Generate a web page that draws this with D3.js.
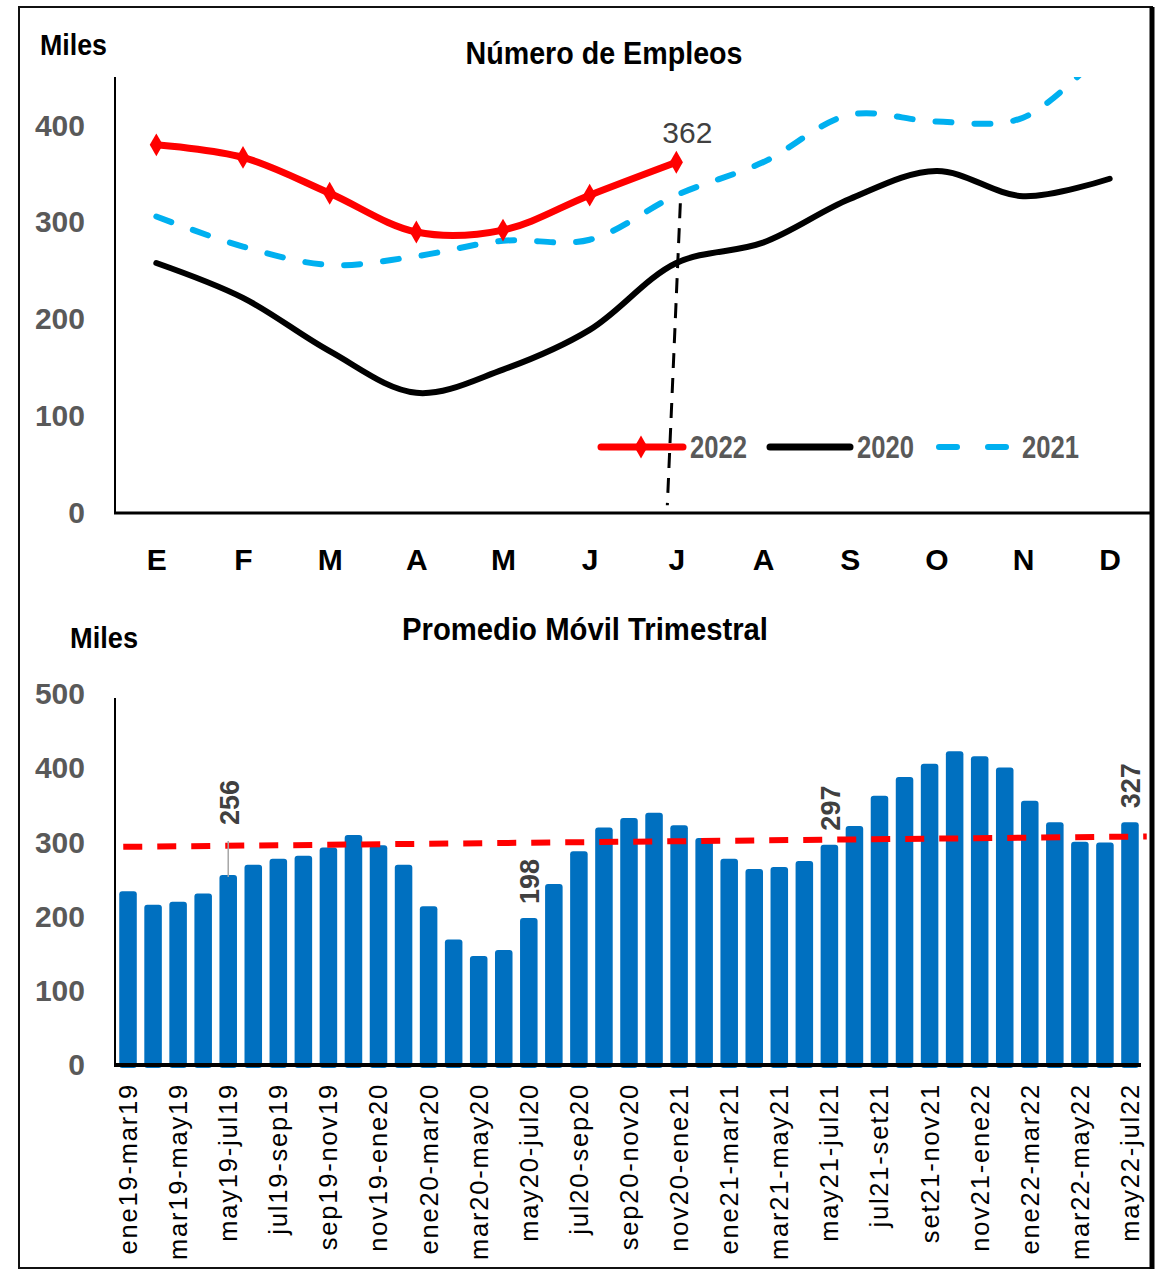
<!DOCTYPE html>
<html>
<head>
<meta charset="utf-8">
<script src="https://cdn.jsdelivr.net/npm/d3@7"></script>
<style>
  body { margin: 0; background: #fff; }
  svg text { font-family: 'Liberation Sans Narrow', 'Arial Narrow', 'Liberation Sans', sans-serif; }
</style>
</head>
<body>
<div id="chart"></div>
<script>
// top chart: monthly jobs (miles)
var months = ["E","F","M","A","M","J","J","A","S","O","N","D"];
var emp2020 = [258, 222, 167, 124, 148, 189, 258, 279, 324, 353, 327, 345];
var emp2021 = [306, 275, 256, 265, 281, 282, 328, 362, 411, 404, 408, 484];
var emp2022 = [380, 367, 330, 290, 292, 328, 362];

// bottom chart: 3-month moving average
var periodLabels = ["ene19-mar19","mar19-may19","may19-jul19","jul19-sep19","sep19-nov19",
  "nov19-ene20","ene20-mar20","mar20-may20","may20-jul20","jul20-sep20","sep20-nov20",
  "nov20-ene21","ene21-mar21","mar21-may21","may21-jul21","jul21-set21","set21-nov21",
  "nov21-ene22","ene22-mar22","mar22-may22","may22-jul22"];
var movAvg = [234, 216, 220, 231, 256, 270, 278, 282, 293, 310, 296, 270,
  214, 169, 147, 155, 198, 244, 288, 320, 333, 340, 323, 306, 278, 264,
  267, 275, 297, 322, 363, 388, 406, 423, 416, 401, 356, 327, 301, 300, 327];
var labelled = [4, 16, 28, 40];
var trend = [294, 308];

var W = 1166, H = 1271;
var svg = d3.select("#chart").append("svg")
  .attr("width", W).attr("height", H);

// frame
svg.append("rect")
  .attr("x", 19).attr("y", 7).attr("width", 1133).attr("height", 1261)
  .attr("fill", "none").attr("stroke", "#111").attr("stroke-width", 2);
svg.append("line")
  .attr("x1", 1152).attr("x2", 1152).attr("y1", 7).attr("y2", 1269)
  .attr("stroke", "#000").attr("stroke-width", 5);

// ---------- top chart ----------
var x1 = d3.scalePoint().domain(d3.range(12)).range([113, 1153]).padding(0.5);
var y1 = d3.scaleLinear().domain([0, 450]).range([513, 77]);

svg.append("clipPath").attr("id", "clipTop")
  .append("rect").attr("x", 115).attr("y", 77).attr("width", 1035).attr("height", 436);

svg.append("text").attr("x", 40).attr("y", 55)
  .attr("font-size", 29).attr("font-weight", "bold")
  .attr("textLength", 67).attr("lengthAdjust", "spacingAndGlyphs").text("Miles");
svg.append("text").attr("x", 604).attr("y", 64).attr("text-anchor", "middle")
  .attr("font-size", 31).attr("font-weight", "bold")
  .attr("textLength", 277).attr("lengthAdjust", "spacingAndGlyphs").text("Número de Empleos");

var yAxisTop = svg.append("g")
  .attr("transform", "translate(115,0)")
  .call(d3.axisLeft(y1).tickValues([0, 100, 200, 300, 400]).tickSize(0).tickPadding(30));
yAxisTop.select(".domain").remove();
yAxisTop.selectAll("text").attr("font-size", 30).attr("font-weight", "bold").attr("fill", "#595959");

var xAxisTop = svg.append("g")
  .attr("transform", "translate(0,513)")
  .call(d3.axisBottom(x1).tickSize(0).tickPadding(36).tickFormat(function(i) { return months[i]; }));
xAxisTop.select(".domain").remove();
xAxisTop.selectAll("text").attr("font-size", 30).attr("font-weight", "bold").attr("fill", "#000");

svg.append("line").attr("x1", 115).attr("x2", 115).attr("y1", 77).attr("y2", 514)
  .attr("stroke", "#000").attr("stroke-width", 2);
svg.append("line").attr("x1", 114).attr("x2", 1152).attr("y1", 513).attr("y2", 513)
  .attr("stroke", "#000").attr("stroke-width", 3);

var line = d3.line()
  .x(function(d, i) { return x1(i); })
  .y(function(d) { return y1(d); })
  .curve(d3.curveCatmullRom.alpha(0.5));

var lines = svg.append("g").attr("clip-path", "url(#clipTop)");

lines.append("path").datum(emp2021)
  .attr("d", line).attr("fill", "none")
  .attr("stroke", "#00B0F0").attr("stroke-width", 6)
  .attr("stroke-linecap", "round").attr("stroke-dasharray", "16,23");

lines.append("path").datum(emp2020)
  .attr("d", line).attr("fill", "none")
  .attr("stroke", "#000").attr("stroke-width", 6).attr("stroke-linecap", "round");

lines.append("path").datum(emp2022)
  .attr("d", line).attr("fill", "none")
  .attr("stroke", "#FF0000").attr("stroke-width", 7).attr("stroke-linecap", "round");

lines.selectAll(".dot").data(emp2022).enter()
  .append("path").attr("class", "dot")
  .attr("transform", function(d, i) { return "translate(" + x1(i) + "," + y1(d) + ")"; })
  .attr("d", d3.symbol(d3.symbolDiamond, 150))
  .attr("fill", "#FF0000");

// dashed marker of the current month
var last = emp2022.length - 1;
svg.append("line")
  .attr("x1", x1(last) + 4).attr("y1", y1(emp2021[last]) + 8)
  .attr("x2", x1(last) - 9).attr("y2", y1(8))
  .attr("stroke", "#000").attr("stroke-width", 3).attr("stroke-dasharray", "15,10");

svg.append("text")
  .attr("x", x1(last) + 11).attr("y", y1(emp2022[last]) - 19)
  .attr("text-anchor", "middle").attr("font-size", 30).attr("fill", "#404040")
  .text(emp2022[last]);

// legend
var leg = svg.append("g").attr("transform", "translate(0,447)");
function legText(x, t) {
  leg.append("text").attr("x", x).attr("y", 11).attr("font-size", 31)
    .attr("font-weight", "bold").attr("fill", "#595959")
    .attr("textLength", 57).attr("lengthAdjust", "spacingAndGlyphs").text(t);
}
leg.append("line").attr("x1", 601).attr("x2", 683).attr("stroke", "#FF0000")
  .attr("stroke-width", 7).attr("stroke-linecap", "round");
leg.append("path").attr("transform", "translate(641,0)")
  .attr("d", d3.symbol(d3.symbolDiamond, 150)).attr("fill", "#FF0000");
legText(690, "2022");
leg.append("line").attr("x1", 770).attr("x2", 850).attr("stroke", "#000")
  .attr("stroke-width", 7).attr("stroke-linecap", "round");
legText(857, "2020");
leg.append("line").attr("x1", 939).attr("x2", 1008).attr("stroke", "#00B0F0")
  .attr("stroke-width", 6).attr("stroke-linecap", "round").attr("stroke-dasharray", "18,31");
legText(1022, "2021");

// ---------- bottom chart ----------
var x2 = d3.scaleBand().domain(d3.range(movAvg.length))
  .range([115.5, 1142.5]).paddingInner(0.3).paddingOuter(0.15);
var y2 = d3.scaleLinear().domain([0, 500]).range([1065, 694]);

svg.append("text").attr("x", 70).attr("y", 648)
  .attr("font-size", 29).attr("font-weight", "bold")
  .attr("textLength", 68).attr("lengthAdjust", "spacingAndGlyphs").text("Miles");
svg.append("text").attr("x", 585).attr("y", 640).attr("text-anchor", "middle")
  .attr("font-size", 31).attr("font-weight", "bold")
  .attr("textLength", 366).attr("lengthAdjust", "spacingAndGlyphs").text("Promedio Móvil Trimestral");

var yAxisBot = svg.append("g")
  .attr("transform", "translate(115,0)")
  .call(d3.axisLeft(y2).ticks(5).tickSize(0).tickPadding(30));
yAxisBot.select(".domain").remove();
yAxisBot.selectAll("text").attr("font-size", 30).attr("font-weight", "bold").attr("fill", "#595959");

svg.selectAll(".bar").data(movAvg).enter()
  .append("rect").attr("class", "bar")
  .attr("x", function(d, i) { return x2(i); })
  .attr("width", x2.bandwidth())
  .attr("y", function(d) { return y2(d); })
  .attr("height", function(d) { return y2(0) - y2(d) + 3; })
  .attr("rx", 3)
  .attr("fill", "#0070C0");

svg.append("line")
  .attr("x1", x2(0) + 4).attr("y1", y2(trend[0]))
  .attr("x2", x2(movAvg.length - 1) + x2.bandwidth() + 8).attr("y2", y2(trend[1]))
  .attr("stroke", "#FF0000").attr("stroke-width", 6).attr("stroke-dasharray", "19,15");

svg.append("line").attr("x1", 115).attr("x2", 115).attr("y1", 698).attr("y2", 1066)
  .attr("stroke", "#000").attr("stroke-width", 2);
svg.append("line").attr("x1", 114).attr("x2", 1141).attr("y1", 1065).attr("y2", 1065)
  .attr("stroke", "#000").attr("stroke-width", 4);

var xAxisBot = svg.append("g")
  .attr("transform", "translate(0,1065)")
  .call(d3.axisBottom(x2)
    .tickValues(d3.range(0, movAvg.length, 2))
    .tickSize(0)
    .tickFormat(function(i) { return periodLabels[i / 2]; }));
xAxisBot.select(".domain").remove();
xAxisBot.selectAll("text")
  .attr("font-size", 25.5).attr("fill", "#000")
  .attr("letter-spacing", 1.8)
  .attr("text-anchor", "end")
  .attr("transform", "rotate(-90)")
  .attr("x", -18).attr("y", 0).attr("dy", "0.35em");

// data labels
var lift = { 4: 50 };
labelled.forEach(function(i) {
  var cx = x2(i) + x2.bandwidth() / 2;
  var off = lift[i] || 14;
  if (lift[i]) {
    svg.append("line").attr("x1", cx).attr("x2", cx)
      .attr("y1", y2(movAvg[i]) - off + 16).attr("y2", y2(movAvg[i]) + 2)
      .attr("stroke", "#A6A6A6").attr("stroke-width", 1.5);
  }
  svg.append("text")
    .attr("transform", "translate(" + (cx + 1) + "," + (y2(movAvg[i]) - off) + ") rotate(-90)")
    .attr("dy", "0.35em")
    .attr("font-size", 27).attr("font-weight", "bold").attr("fill", "#404040")
    .text(movAvg[i]);
});
</script>
</body>
</html>
